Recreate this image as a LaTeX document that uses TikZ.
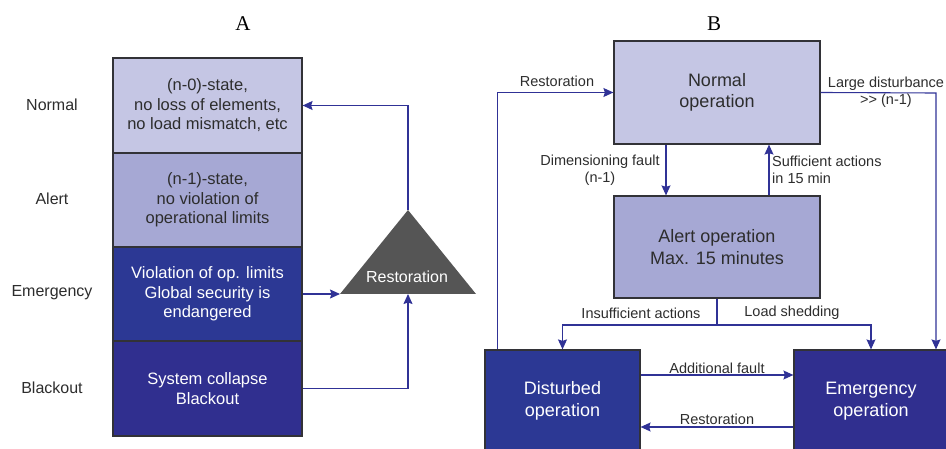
\documentclass[tikz,border=0pt]{standalone}
\usepackage{fontspec}
\setmainfont{Liberation Sans}
\newfontfamily\titlefont{Liberation Serif}
\usetikzlibrary{arrows.meta}

\definecolor{lvnormal}{RGB}{197,198,228}
\definecolor{lvalert}{RGB}{166,168,212}
\definecolor{lvemerg}{RGB}{44,56,148}
\definecolor{lvblack}{RGB}{48,47,143}
\definecolor{flowblue}{RGB}{48,50,150}
\definecolor{edgegray}{RGB}{50,50,55}
\definecolor{txtdark}{RGB}{45,45,45}
\definecolor{trigray}{RGB}{85,85,85}

\tikzset{
  statebox/.style={draw=edgegray, line width=1.2pt, align=center, inner sep=0pt},
  lightbox/.style={statebox, text=txtdark},
  darkbox/.style={statebox, text=white},
  stacktext/.style={font=\fontsize{16.5}{19.5}\selectfont},
  opstext/.style={font=\fontsize{18}{21.5}\selectfont},
  levellabel/.style={text=txtdark, font=\fontsize{16}{19}\selectfont},
  flowlabel/.style={text=txtdark, font=\fontsize{14.5}{17}\selectfont, inner sep=0pt},
  flow/.style={draw=flowblue, line width=1.1pt, -{Stealth[length=10pt,width=9pt,inset=1.5pt]}},
  flowline/.style={draw=flowblue, line width=1.1pt},
  paneltitle/.style={font=\titlefont\fontsize{21}{24}\selectfont, text=black}
}

\begin{document}
\begin{tikzpicture}[x=1pt, y=-1pt]
\useasboundingbox (0,0) rectangle (946,449);
\clip (0,0) rectangle (946,449);

% ---------- Panel A: stacked operating states ----------
\node[paneltitle] (titleA) at (243,24) {A};

\node[lightbox, stacktext, fill=lvnormal, minimum width=189pt, minimum height=95pt]
  (sN) at (207.5,105.5) {(n-0)-state,\\no loss of elements,\\no load mismatch, etc};
\node[lightbox, stacktext, fill=lvalert, minimum width=189pt, minimum height=94pt]
  (sA) at (207.5,200) {(n-1)-state,\\no violation of\\operational limits};
\node[darkbox, stacktext, fill=lvemerg, minimum width=189pt, minimum height=94pt]
  (sE) at (207.5,294) {Violation of op. limits\\Global security is\\endangered};
\node[darkbox, stacktext, fill=lvblack, minimum width=189pt, minimum height=95pt]
  (sB) at (207.5,388.5) {System collapse\\Blackout};

\node[levellabel] (lN) at (52,105) {Normal};
\node[levellabel] (lA) at (52,199) {Alert};
\node[levellabel] (lE) at (52,293) {Emergency};
\node[levellabel] (lB) at (52,388) {Blackout};

% restoration triangle
\coordinate (apex) at (408,210);
\coordinate (baseL) at (340,294);
\coordinate (baseR) at (476,294);
\coordinate (baseM) at (408,294);
\fill[trigray] (apex) -- (baseR) -- (baseL) -- cycle;
\node[text=white, font=\fontsize{16}{19}\selectfont] (restA) at (407,277) {Restoration};

\draw[flow] (apex) |- (sN.east);
\draw[flow] (sE.east) -- (baseL);
\draw[flow] (sB.east) -| (baseM);

% ---------- Panel B: state transitions ----------
\node[paneltitle] (titleB) at (714,24) {B};

\node[lightbox, opstext, fill=lvnormal, minimum width=206pt, minimum height=103pt]
  (opN) at (717,92.5) {Normal\\operation};
\node[lightbox, opstext, fill=lvalert, minimum width=206pt, minimum height=102pt]
  (opA) at (717,247) {Alert operation\\Max. 15 minutes};
\node[darkbox, opstext, fill=lvemerg, minimum width=155pt, minimum height=102pt]
  (opD) at (562.5,401) {Disturbed\\operation};
\node[darkbox, opstext, fill=lvblack, minimum width=154pt, minimum height=102pt]
  (opE) at (871,401) {Emergency\\operation};

% normal <-> alert
\draw[flow] ([xshift=-51pt]opN.south) -- ([xshift=-51pt]opA.north);
\draw[flow] ([xshift=52pt]opA.north) -- ([xshift=52pt]opN.south);
\node[flowlabel, align=center] (lDim) at (600,170) {Dimensioning fault\\(n-1)};
\node[flowlabel, align=left, anchor=west] (lSuf) at (772,170) {Sufficient actions\\in 15 min};

% alert -> disturbed / emergency
\coordinate (split) at (717,325);
\draw[flowline] (opA.south) -- (split);
\draw[flow] (split) -| (opD.north);
\draw[flow] (split) -| (opE.north);
\node[flowlabel] (lIns) at (641,313) {Insufficient actions};
\node[flowlabel] (lLoad) at (792,313) {Load shedding};

% disturbed -> normal
\draw[flow] ([xshift=13pt]opD.north west) |- (opN.west);
\node[flowlabel] (lRes1) at (557,81) {Restoration};

% normal -> emergency
\coordinate (bigDist) at (936,93);
\draw[flow] (opN.east) -- (bigDist) -- (bigDist |- opE.north);
\node[flowlabel, align=center] (lLarge) at (886,92.5) {Large disturbance\\>{}> (n-1)};

% disturbed <-> emergency
\draw[flow] ([yshift=26pt]opD.east) -- ([yshift=26pt]opE.west);
\draw[flow] ([yshift=-26pt]opE.west) -- ([yshift=-26pt]opD.east);
\node[flowlabel] (lAdd) at (717,368) {Additional fault};
\node[flowlabel] (lRes2) at (717,419) {Restoration};
\end{tikzpicture}
\end{document}
